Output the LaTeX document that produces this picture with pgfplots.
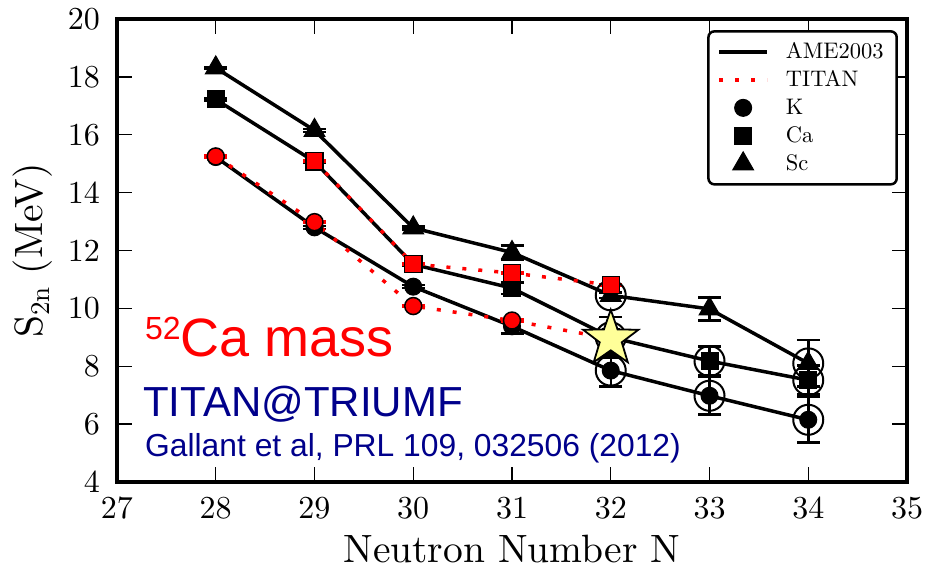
\documentclass[border=0pt]{standalone}
\usepackage{fontspec}
\usepackage{pgfplots}
\pgfplotsset{compat=1.18}
\newfontfamily\hv{Liberation Sans}
\newfontfamily\lmten{lmroman10-regular.otf}
\definecolor{navyblue}{RGB}{0,0,139}
\definecolor{staryellow}{RGB}{255,255,153}
\pgfdeclareplotmark{fivestar}{%
  \pgfpathmoveto{\pgfpointpolar{90}{\pgfplotmarksize}}%
  \pgfpathlineto{\pgfpointpolar{126}{0.4*\pgfplotmarksize}}%
  \pgfpathlineto{\pgfpointpolar{162}{\pgfplotmarksize}}%
  \pgfpathlineto{\pgfpointpolar{198}{0.4*\pgfplotmarksize}}%
  \pgfpathlineto{\pgfpointpolar{234}{\pgfplotmarksize}}%
  \pgfpathlineto{\pgfpointpolar{270}{0.4*\pgfplotmarksize}}%
  \pgfpathlineto{\pgfpointpolar{306}{\pgfplotmarksize}}%
  \pgfpathlineto{\pgfpointpolar{342}{0.4*\pgfplotmarksize}}%
  \pgfpathlineto{\pgfpointpolar{18}{\pgfplotmarksize}}%
  \pgfpathlineto{\pgfpointpolar{54}{0.4*\pgfplotmarksize}}%
  \pgfpathclose
  \pgfusepathqfillstroke}
\begin{document}
\begin{tikzpicture}
\begin{axis}[
  scale only axis, width=790pt, height=463pt,
  xmin=27, xmax=35, ymin=4, ymax=20,
  xtick={27,28,...,35}, ytick={4,6,...,20},
  tick align=inside, xtick pos=both, ytick pos=both,
  major tick length=15pt,
  tick style={line width=1.3pt, black},
  axis line style={line width=3.5pt},
  /pgf/number format/assume math mode=true,
  tick label style={font=\lmten\fontsize{32}{32}\selectfont},
  xticklabel style={inner sep=0pt, yshift=-15pt},
  yticklabel style={inner sep=0pt, xshift=-17pt},
  xlabel={Neutron Number N},
  ylabel={S\raisebox{-7pt}{\fontsize{27}{27}\selectfont 2n} (MeV)},
  label style={font=\lmten\fontsize{39.5}{39.5}\selectfont},
  xlabel style={at={(axis description cs:0.5,-0.1728)}, anchor=base},
  ylabel style={at={(axis description cs:-0.0949,0.5)}, anchor=base},
  legend style={at={(0.9886,0.976)}, anchor=north east, draw=black, line width=2.5pt,
    rounded corners=6pt, fill=white, font=\lmten\fontsize{22.5}{22.5}\selectfont,
    inner xsep=9pt, inner ysep=6.5pt, column sep=13pt, row sep=0pt,
    nodes={inner xsep=4pt, inner ysep=3.65pt, text height=17pt, text depth=3.7pt}},
  legend cell align=left,
  legend image code/.code={\draw[sharp corners, mark repeat=2, mark phase=2, #1] plot coordinates {(0pt,0pt) (24pt,0pt) (48pt,0pt)};},
  error bars/error bar style={line width=2.5pt, solid},
  error bars/error mark options={rotate=90, mark size=11.5pt, line width=2.5pt, solid},
]
% AME2003 K
\addplot[forget plot, black, line width=3.5pt, mark=*, mark size=8.5pt,
  mark options={fill=black, draw=black, line width=1pt},
  error bars/.cd, y dir=both, y explicit] coordinates {
  (28,15.23) +- (0,0.03)
  (29,12.80) +- (0,0.05)
  (30,10.75) +- (0,0.05)
  (31,9.38) +- (0,0.25)
  (32,7.85) +- (0,0.55)
  (33,6.98) +- (0,0.65)
  (34,6.15) +- (0,0.78)
};
% AME2003 Ca
\addplot[forget plot, black, line width=3.5pt, mark=square*, mark size=8.5pt,
  mark options={fill=black, draw=black, line width=1pt},
  error bars/.cd, y dir=both, y explicit] coordinates {
  (28,17.22) +- (0,0.03)
  (29,15.07) +- (0,0.05)
  (30,11.52) +- (0,0.05)
  (31,10.70) +- (0,0.2)
  (32,9.00) +- (0,0.7)
  (33,8.18) +- (0,0.5)
  (34,7.52) +- (0,0.5)
};
% AME2003 Sc
\addplot[forget plot, black, line width=3.5pt, mark=triangle*, mark size=12pt,
  mark options={fill=black, draw=black, line width=1pt},
  error bars/.cd, y dir=both, y explicit] coordinates {
  (28,18.31) +- (0,0.03)
  (29,16.15) +- (0,0.05)
  (30,12.78) +- (0,0.05)
  (31,11.93) +- (0,0.25)
  (32,10.45) +- (0,0.1)
  (33,9.98) +- (0,0.4)
  (34,8.10) +- (0,0.8)
};
% extrapolated values (open circles)
\addplot[forget plot, only marks, black, mark=o, mark size=15pt,
  mark options={line width=2pt, fill=none}] coordinates {
  (32,7.85) (33,6.98) (34,6.15)
  (32,9.00) (33,8.18) (34,7.52)
  (32,10.45) (34,8.10)
};
% TITAN K (dotted)
\addplot[forget plot, red, line width=3.5pt, dash pattern=on 4pt off 12pt, mark=none] coordinates {
  (28,15.25) (29,12.98) (30,10.08) (31,9.58) (32,8.95)
};
% TITAN Ca (dotted)
\addplot[forget plot, red, line width=3.5pt, dash pattern=on 4pt off 12pt, mark=none] coordinates {
  (29,15.09) (30,11.53) (31,11.22) (32,10.81)
};
% TITAN K points
\addplot[forget plot, only marks, red, mark=*, mark size=8.5pt,
  mark options={fill=red, draw=black, line width=1.5pt},
  error bars/.cd, y dir=both, y explicit] coordinates {
  (28,15.25) +- (0,0.03)
  (29,12.98) +- (0,0.03)
  (30,10.08) +- (0,0.03)
  (31,9.58) +- (0,0.03)
};
% TITAN Ca points
\addplot[forget plot, only marks, red, mark=square*, mark size=8.5pt,
  mark options={fill=red, draw=black, line width=1.5pt},
  error bars/.cd, y dir=both, y explicit] coordinates {
  (29,15.09) +- (0,0.03)
  (30,11.53) +- (0,0.03)
  (31,11.22) +- (0,0.03)
  (32,10.81) +- (0,0.03)
};
% 52Ca star
\addplot[forget plot, only marks, mark=fivestar, mark size=29pt,
  mark options={fill=staryellow, draw=black, line width=1.8pt}] coordinates {
  (32,8.95)
};
% legend
\addlegendimage{black, line width=3.5pt}
\addlegendentry{AME2003}
\addlegendimage{red, line width=3.5pt, dash pattern=on 4pt off 12pt}
\addlegendentry{TITAN}
\addlegendimage{only marks, black, mark=*, mark size=8.5pt, mark options={fill=black, line width=1pt}}
\addlegendentry{K}
\addlegendimage{only marks, black, mark=square*, mark size=8.5pt, mark options={fill=black, line width=1pt}}
\addlegendentry{Ca}
\addlegendimage{only marks, black, mark=triangle*, mark size=12pt, mark options={fill=black, line width=1pt}}
\addlegendentry{Sc}
\end{axis}
\node[anchor=base west, inner sep=0pt, text=red, font=\hv\fontsize{54}{54}\selectfont]
  at (28pt,125pt) {\raisebox{17pt}{\fontsize{32}{32}\selectfont 52}Ca mass};
\node[anchor=base west, inner sep=0pt, text=navyblue, font=\hv\fontsize{42}{42}\selectfont]
  at (26pt,65pt) {TITAN@TRIUMF};
\node[anchor=base west, inner sep=0pt, text=navyblue, font=\hv\fontsize{31.8}{31.8}\selectfont]
  at (28pt,25pt) {Gallant et al, PRL 109, 032506 (2012)};
\pgfresetboundingbox
\useasboundingbox (-117pt,-90pt) rectangle (808pt,482pt);
\end{tikzpicture}
\end{document}
